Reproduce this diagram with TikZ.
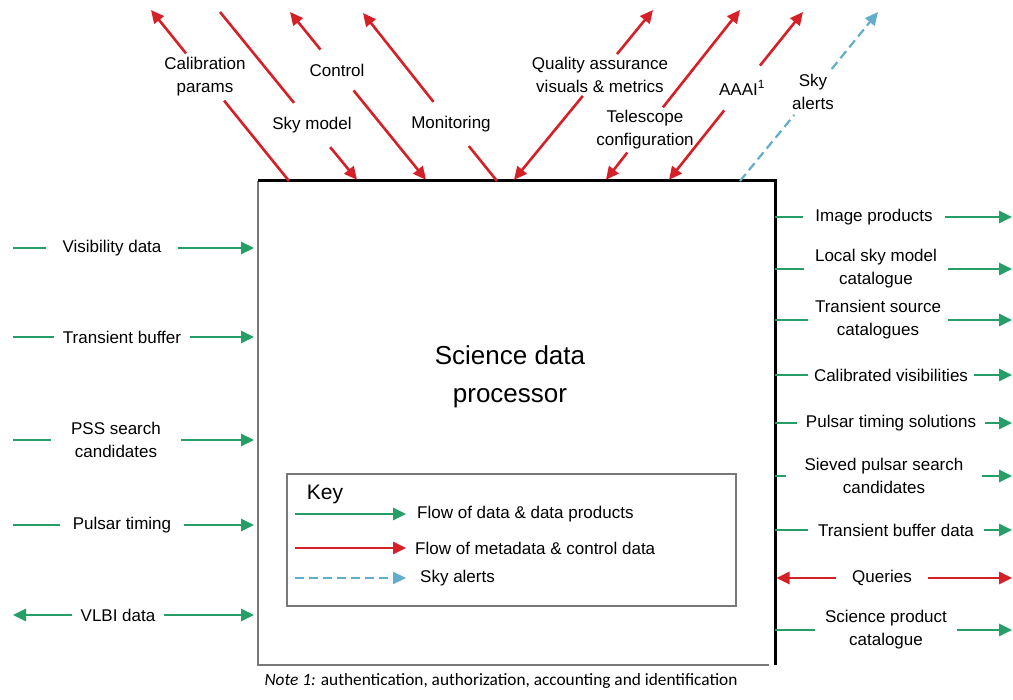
\documentclass[tikz,border=0pt]{standalone}
\usepackage{fontspec}
\setmainfont{Liberation Sans}
\newfontfamily\notefont{Carlito}
\usetikzlibrary{arrows.meta}

\definecolor{flowgreen}{RGB}{38,158,104}
\definecolor{ctrlred}{RGB}{214,32,40}
\definecolor{alertblue}{RGB}{98,172,204}
\definecolor{edgegray}{RGB}{120,120,120}

\newcommand{\lblfont}{\fontsize{17}{23}\selectfont}
\newcommand{\ttlfont}{\fontsize{26}{38}\selectfont}

\begin{document}
\begin{tikzpicture}[x=1pt, y=-1pt, every node/.style={font=\lblfont},
	tip/.style={-{Triangle[length=13pt,width=12pt]}},
	data/.style={draw=flowgreen, line width=2.6pt, tip},
	ctrl/.style={draw=ctrlred, line width=2.6pt, tip},
	alert/.style={draw=alertblue, line width=2.2pt, dash pattern=on 9pt off 5pt, tip},
	lbl/.style={align=center, inner xsep=12pt, inner ysep=4pt}]
	\useasboundingbox (0,0) rectangle (1013,700);

	% processor box
	\node[minimum width=517pt, minimum height=484pt, inner sep=0pt, outer sep=0pt] (sdp) at (516.5,423) {};
	\draw[edgegray, line width=1.5pt] (sdp.north west) -- (sdp.south west) -- ([xshift=-6pt]sdp.south east);
	\draw[line width=3pt] (sdp.north west) -- (sdp.north east) -- (sdp.south east);
	\node[font=\ttlfont, align=center] (ttl) at (510,377) {Science data\\processor};

	% key
	\node[draw=edgegray, line width=1.3pt, minimum width=449pt, minimum height=132pt, inner sep=0pt] (keyb) at (511.5,540) {};
	\node[font=\fontsize{21}{25}\selectfont] (keyt) at (325,494) {Key};
	\coordinate (kl) at (295,0);
	\node[anchor=west, inner xsep=11pt] (kdat) at (406,514) {Flow of data \& data products};
	\node[anchor=west, inner xsep=9pt] (kctl) at (406,548) {Flow of metadata \& control data};
	\node[anchor=west, inner xsep=14pt] (kalt) at (406,578) {Sky alerts};
	\draw[data] (kl |- kdat.west) -- (kdat.west);
	\draw[ctrl] (kl |- kctl.west) -- (kctl.west);
	\draw[alert] (kl |- kalt.west) -- (kalt.west);

	% inputs on the left
	\coordinate (lx) at (13,0);
	\node[lbl, inner xsep=16pt] (vis) at (112,248) {Visibility data};
	\node[lbl, inner xsep=9pt] (tbuf) at (122,337) {Transient buffer};
	\node[lbl, inner xsep=20pt] (pss) at (116,440) {PSS search\\candidates};
	\node[lbl, inner xsep=13pt] (ptim) at (122,525) {Pulsar timing};
	\node[lbl, inner xsep=8pt] (vlbi) at (118,615) {VLBI data};
	\foreach \n in {vis,tbuf,pss,ptim}
		\draw[data, shorten >=4pt] (lx |- \n) -- (\n) -- (\n -| sdp.west);
	\draw[data, shorten >=4pt] (vlbi) -- (vlbi -| sdp.west);
	\draw[data] (vlbi) -- (lx |- vlbi);

	% products on the right
	\coordinate (rx) at (1012,0);
	\node[lbl, inner xsep=12pt] (img) at (874,217) {Image products};
	\node[lbl, inner xsep=11pt] (lsm) at (876,269) {Local sky model\\catalogue};
	\node[lbl, inner xsep=7pt] (tsc) at (878,320) {Transient source\\catalogues};
	\node[lbl, inner xsep=6pt] (cvis) at (891,375) {Calibrated visibilities};
	\node[lbl, inner xsep=9pt] (pts) at (891,423) {Pulsar timing solutions};
	\node[lbl, inner xsep=18pt] (spc) at (884,476) {Sieved pulsar search\\candidates};
	\node[lbl, inner xsep=10pt] (tbd) at (896,530) {Transient buffer data};
	\node[lbl, inner xsep=16pt] (qry) at (882,578) {Queries};
	\node[lbl, inner xsep=10pt] (spcat) at (886,630) {Science product\\catalogue};
	\foreach \n in {img,lsm,tsc,cvis,pts,spc,tbd,spcat}
		\draw[data] (sdp.east |- \n) -- (\n) -- (\n -| rx);
	\draw[ctrl] (qry) -- (qry -| rx);
	\draw[ctrl, shorten >=1.5pt] (qry) -- (sdp.east |- qry);

	% flows across the top
	\coordinate (calT) at (151,10);
	\coordinate (skyT) at (220,12);
	\coordinate (ctlT) at (290,12);
	\coordinate (monT) at (363,13);
	\coordinate (qaT) at (653,10);
	\coordinate (telT) at (740,10);
	\coordinate (aaaT) at (803,12);
	\coordinate (altT) at (878,12);
	\node[lbl, inner sep=4pt] (cal) at (205,77) {Calibration\\params};
	\node[lbl, inner sep=14pt] (skym) at (312,125) {Sky model};
	\node[lbl, inner sep=14pt] (ctl) at (337,70) {Control};
	\node[lbl, inner sep=14pt] (mon) at (451,124) {Monitoring};
	\node[lbl, inner sep=3pt] (qa) at (600,75) {Quality assurance\\visuals \& metrics};
	\node[lbl, inner sep=3pt] (tel) at (645,130) {Telescope\\configuration};
	\node[lbl, inner sep=15pt] (aaa) at (742,88) {AAAI\textsuperscript{1}};
	\node[lbl, inner xsep=2pt, inner ysep=5pt] (alt) at (813,92) {Sky\\alerts};
	\draw[ctrl] ([xshift=31pt]sdp.north west) -- (cal) -- (calT);
	\draw[ctrl, shorten >=1.5pt] (skyT) -- (skym) -- ([xshift=100pt]sdp.north west);
	\draw[ctrl] (ctl) -- (ctlT);
	\draw[ctrl, shorten >=1.5pt] (ctl) -- ([xshift=169pt]sdp.north west);
	\draw[ctrl] ([xshift=239pt]sdp.north west) -- (mon) -- (monT);
	\draw[ctrl] (qa) -- (qaT);
	\draw[ctrl, shorten >=1.5pt] (qa) -- ([xshift=255pt]sdp.north west);
	\draw[ctrl] (tel) -- (telT);
	\draw[ctrl, shorten >=1.5pt] (tel) -- ([xshift=347pt]sdp.north west);
	\draw[ctrl] (aaa) -- (aaaT);
	\draw[ctrl, shorten >=1.5pt] (aaa) -- ([xshift=410pt]sdp.north west);
	\draw[alert] ([xshift=482pt]sdp.north west) -- (alt) -- (altT);

	\node[font=\notefont\fontsize{17.3}{20}\selectfont] (note) at (501,681) {\textit{Note 1:} authentication, authorization, accounting and identification};
\end{tikzpicture}
\end{document}
